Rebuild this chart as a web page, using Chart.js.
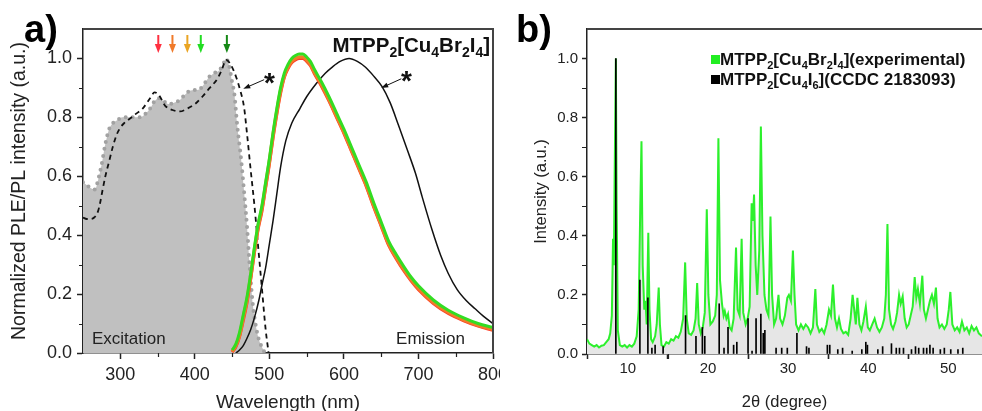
<!DOCTYPE html>
<html>
<head>
<meta charset="utf-8">
<script src="https://cdn.jsdelivr.net/npm/chart.js@4.4.1/dist/chart.umd.min.js"></script>
<style>
  html, body { margin: 0; padding: 0; background: #fff; overflow: hidden; width: 982px; height: 411px; }
  #wrapA { position: absolute; left: 0; top: 0; width: 500px; height: 425px; }
  #wrapB { position: absolute; left: 500px; top: 0; width: 482px; height: 425px; }
</style>
</head>
<body>
<div id="wrapA"><canvas id="pleChart"></canvas></div>
<div id="wrapB"><canvas id="xrdChart"></canvas></div>
<script>
const FONT = '"Liberation Sans", Arial, sans-serif';

// ---- panel a: PLE / PL ----
const pleWl = [250, 255, 260, 266, 270, 275, 280, 285, 290, 296, 303, 310, 320, 326, 333, 340, 346, 352, 358, 366, 372, 379, 386, 393, 400, 406, 413, 419, 426, 433, 438, 442, 446, 450, 453, 457, 462, 466, 470, 474, 478, 482, 486, 490, 494];
const pleVal = [0.58, 0.57, 0.56, 0.555, 0.585, 0.64, 0.71, 0.76, 0.78, 0.79, 0.80, 0.80, 0.80, 0.80, 0.81, 0.83, 0.855, 0.865, 0.855, 0.845, 0.85, 0.857, 0.875, 0.89, 0.893, 0.895, 0.915, 0.937, 0.95, 0.96, 0.98, 1.0, 0.975, 0.92, 0.88, 0.77, 0.66, 0.55, 0.43, 0.28, 0.16, 0.09, 0.045, 0.02, 0];

// reference compound (*) excitation, dashed
const refPleWl = [250, 255, 260, 265, 270, 273, 276, 280, 285, 290, 295, 300, 305, 310, 320, 330, 340, 346, 352, 360, 370, 380, 390, 400, 410, 420, 430, 436, 442, 448, 455, 460, 466, 470, 475, 480, 485, 490, 495, 499];
const refPleVal = [0.46, 0.455, 0.455, 0.46, 0.48, 0.51, 0.55, 0.6, 0.65, 0.70, 0.74, 0.765, 0.78, 0.79, 0.81, 0.83, 0.865, 0.885, 0.875, 0.84, 0.825, 0.82, 0.83, 0.845, 0.87, 0.90, 0.93, 0.96, 0.995, 0.98, 0.94, 0.90, 0.835, 0.745, 0.62, 0.50, 0.36, 0.22, 0.08, 0];

// emission under the five excitation wavelengths
const emWl = [450, 455, 460, 465, 470, 475, 480, 485, 490, 495, 500, 505, 510, 515, 520, 525, 530, 535, 540, 545, 550, 555, 560, 570, 580, 590, 600, 610, 620, 630, 640, 650, 660, 670, 680, 690, 700, 720, 740, 760, 780, 800];
const emGreen = [0.01, 0.03, 0.07, 0.13, 0.19, 0.27, 0.36, 0.44, 0.50, 0.58, 0.66, 0.75, 0.83, 0.90, 0.95, 0.98, 1.0, 1.01, 1.015, 1.015, 1.005, 0.99, 0.965, 0.92, 0.87, 0.815, 0.76, 0.70, 0.64, 0.58, 0.51, 0.445, 0.38, 0.335, 0.295, 0.258, 0.228, 0.18, 0.145, 0.12, 0.10, 0.087];
const emOrange = [0.005, 0.025, 0.06, 0.12, 0.18, 0.26, 0.35, 0.43, 0.49, 0.57, 0.65, 0.74, 0.82, 0.89, 0.94, 0.97, 0.99, 1.0, 1.005, 1.005, 0.995, 0.98, 0.955, 0.91, 0.86, 0.805, 0.75, 0.69, 0.63, 0.57, 0.50, 0.435, 0.37, 0.325, 0.285, 0.25, 0.22, 0.172, 0.138, 0.113, 0.094, 0.08];
const emRed = [0.003, 0.02, 0.055, 0.11, 0.17, 0.25, 0.34, 0.42, 0.48, 0.56, 0.64, 0.73, 0.81, 0.88, 0.935, 0.965, 0.985, 0.995, 1.0, 1.0, 0.99, 0.975, 0.95, 0.905, 0.855, 0.80, 0.745, 0.685, 0.625, 0.565, 0.495, 0.43, 0.365, 0.32, 0.28, 0.245, 0.215, 0.168, 0.134, 0.11, 0.091, 0.077];

// reference compound (*) emission, black
const refEmWl = [455, 460, 465, 470, 475, 480, 486, 490, 495, 500, 505, 510, 515, 522, 530, 541, 550, 563, 575, 584, 595, 607, 618, 629, 640, 651, 662, 673, 685, 696, 705, 718, 730, 740, 752, 764, 776, 787, 800];
const refEmVal = [0, 0.01, 0.025, 0.05, 0.08, 0.12, 0.18, 0.23, 0.29, 0.37, 0.45, 0.54, 0.63, 0.72, 0.78, 0.83, 0.87, 0.915, 0.95, 0.97, 0.99, 1.0, 0.99, 0.97, 0.94, 0.905, 0.85, 0.775, 0.69, 0.61, 0.53, 0.42, 0.33, 0.27, 0.215, 0.178, 0.15, 0.125, 0.10];

const excitationWl = [351, 370, 390, 408, 443];
const excitationColors = ['#ff3040', '#f07a2a', '#eaa524', '#22dd22', '#168816'];

const xTicksA = [300, 400, 500, 600, 700, 800];
const xMinorA = [350, 450, 550, 650, 750];
const yTicks = [0, 0.2, 0.4, 0.6, 0.8, 1.0];
const yMinor = [0.1, 0.3, 0.5, 0.7, 0.9];

// ---- panel b: XRD ----
const xrdAngle = [4.9, 5.2, 5.5, 5.8, 6.1, 6.4, 6.7, 7.0, 7.3, 7.6, 7.8, 8.0, 8.15, 8.25, 8.35, 8.5, 8.6, 8.75, 9.0, 9.3, 9.6, 9.9, 10.2, 10.5, 10.8, 11.1, 11.35, 11.55, 11.7, 11.85, 12.05, 12.2, 12.35, 12.55, 12.7, 12.9, 13.1, 13.4, 13.6, 13.85, 14.0, 14.2, 14.5, 14.8, 15.1, 15.4, 15.7, 16.0, 16.3, 16.6, 16.9, 17.15, 17.35, 17.6, 17.9, 18.2, 18.45, 18.65, 18.85, 19.1, 19.35, 19.6, 19.85, 20.05, 20.3, 20.6, 20.9, 21.1, 21.3, 21.5, 21.75, 21.95, 22.1, 22.3, 22.5, 22.7, 22.95, 23.2, 23.5, 23.7, 23.95, 24.2, 24.4, 24.7, 24.95, 25.2, 25.45, 25.6, 25.75, 25.95, 26.15, 26.4, 26.6, 26.8, 27.05, 27.3, 27.55, 27.8, 28.0, 28.25, 28.5, 28.8, 29.0, 29.3, 29.6, 29.9, 30.1, 30.35, 30.6, 30.8, 31.0, 31.3, 31.6, 31.9, 32.2, 32.5, 32.8, 33.1, 33.4, 33.6, 33.9, 34.2, 34.5, 34.8, 35.1, 35.35, 35.6, 35.85, 36.1, 36.35, 36.6, 36.9, 37.2, 37.5, 37.8, 38.05, 38.25, 38.45, 38.65, 38.9, 39.15, 39.4, 39.7, 39.95, 40.2, 40.5, 40.8, 41.1, 41.4, 41.7, 42.0, 42.2, 42.4, 42.6, 42.85, 43.1, 43.4, 43.6, 43.85, 44.05, 44.3, 44.55, 44.8, 45.05, 45.3, 45.55, 45.8, 46.0, 46.2, 46.45, 46.75, 46.95, 47.2, 47.45, 47.7, 47.95, 48.2, 48.45, 48.65, 48.9, 49.2, 49.5, 49.8, 50.05, 50.25, 50.5, 50.8, 51.1, 51.4, 51.7, 52.0, 52.3, 52.6, 52.9, 53.2, 53.5, 53.8, 54.2];
const xrdInt = [0.05, 0.035, 0.03, 0.025, 0.03, 0.022, 0.028, 0.03, 0.04, 0.05, 0.07, 0.13, 0.39, 0.3, 0.6, 1.0, 0.5, 0.08, 0.03, 0.025, 0.03, 0.022, 0.03, 0.025, 0.035, 0.06, 0.15, 0.5, 0.72, 0.3, 0.15, 0.18, 0.1, 0.41, 0.15, 0.05, 0.04, 0.06, 0.1, 0.225, 0.1, 0.03, 0.025, 0.04, 0.035, 0.05, 0.045, 0.06, 0.055, 0.075, 0.12, 0.31, 0.12, 0.07, 0.065, 0.08, 0.12, 0.24, 0.1, 0.07, 0.09, 0.14, 0.49, 0.2, 0.1, 0.11, 0.13, 0.2, 0.73, 0.25, 0.17, 0.13, 0.145, 0.12, 0.135, 0.09, 0.08, 0.12, 0.36, 0.15, 0.13, 0.39, 0.14, 0.1, 0.12, 0.16, 0.51, 0.45, 0.54, 0.3, 0.2, 0.35, 0.77, 0.4, 0.2, 0.15, 0.13, 0.465, 0.2, 0.1, 0.12, 0.2, 0.12, 0.1, 0.13, 0.19, 0.2, 0.18, 0.35, 0.2, 0.1, 0.08, 0.1, 0.085, 0.1, 0.09, 0.07, 0.09, 0.22, 0.1, 0.075, 0.085, 0.07, 0.1, 0.15, 0.13, 0.235, 0.12, 0.09, 0.12, 0.085, 0.07, 0.075, 0.065, 0.12, 0.2, 0.15, 0.1, 0.19, 0.1, 0.08, 0.11, 0.16, 0.09, 0.08, 0.1, 0.12, 0.09, 0.075, 0.09, 0.12, 0.2, 0.44, 0.15, 0.1, 0.085, 0.11, 0.14, 0.2, 0.17, 0.195, 0.12, 0.09, 0.1, 0.13, 0.16, 0.26, 0.19, 0.22, 0.17, 0.265, 0.15, 0.12, 0.15, 0.18, 0.2, 0.17, 0.225, 0.12, 0.09, 0.1, 0.085, 0.1, 0.15, 0.21, 0.1, 0.08, 0.09, 0.075, 0.11, 0.08, 0.09, 0.07, 0.095, 0.08, 0.09, 0.07, 0.06];

// CCDC 2183093 calculated pattern (sticks)
const ccdcAngle = [8.5, 11.5, 12.5, 13.0, 13.4, 14.4, 17.2, 18.5, 19.3, 19.6, 21.4, 22.0, 22.5, 23.2, 23.6, 25.0, 25.5, 26.0, 26.6, 26.9, 27.1, 28.5, 29.2, 29.9, 31.1, 32.3, 32.6, 34.9, 35.2, 36.2, 36.8, 38.0, 39.2, 39.7, 39.9, 41.2, 41.8, 42.9, 43.5, 43.9, 44.4, 45.4, 45.9, 46.3, 46.9, 47.3, 47.7, 48.1, 49.0, 49.5, 50.3, 51.2, 51.8];
const ccdcInt = [1.0, 0.25, 0.19, 0.02, 0.03, 0.025, 0.13, 0.06, 0.09, 0.06, 0.17, 0.02, 0.09, 0.03, 0.04, 0.12, 0.01, 0.12, 0.135, 0.07, 0.08, 0.02, 0.02, 0.02, 0.07, 0.025, 0.02, 0.03, 0.03, 0.015, 0.02, 0.01, 0.015, 0.04, 0.03, 0.015, 0.025, 0.035, 0.02, 0.02, 0.02, 0.015, 0.025, 0.02, 0.02, 0.02, 0.03, 0.02, 0.015, 0.02, 0.015, 0.015, 0.02];

const xTicksB = [10, 20, 30, 40, 50];
const xMinorB = [15, 25, 35, 45];

Chart.defaults.font.family = FONT;
Chart.defaults.color = '#222';
Chart.defaults.animation = false;

const pts = (xs, ys) => xs.map((x, i) => ({ x: x, y: ys[i] }));

function drawArrow(ctx, x1, y1, x2, y2, color, lw, head, halfW) {
  const a = Math.atan2(y2 - y1, x2 - x1);
  ctx.save();
  ctx.strokeStyle = color; ctx.fillStyle = color; ctx.lineWidth = lw;
  ctx.beginPath();
  ctx.moveTo(x1, y1);
  ctx.lineTo(x2 - Math.cos(a) * head * 0.8, y2 - Math.sin(a) * head * 0.8);
  ctx.stroke();
  ctx.beginPath();
  ctx.moveTo(x2, y2);
  ctx.lineTo(x2 - Math.cos(a) * head - Math.sin(a) * halfW, y2 - Math.sin(a) * head + Math.cos(a) * halfW);
  ctx.lineTo(x2 - Math.cos(a) * head + Math.sin(a) * halfW, y2 - Math.sin(a) * head - Math.cos(a) * halfW);
  ctx.closePath();
  ctx.fill();
  ctx.restore();
}

// text with subscripts, written as "MTPP_2[Cu_4...]"
function drawRich(ctx, str, x, y, size, align) {
  const parts = str.split(/(_\d)/).filter(t => t).map(t => t[0] === '_' ? [t.slice(1), true] : [t, false]);
  const mainFont = 'bold ' + size + 'px ' + FONT;
  const subFont = 'bold ' + Math.round(size * 0.66) + 'px ' + FONT;
  let w = 0;
  parts.forEach(p => { ctx.font = p[1] ? subFont : mainFont; w += ctx.measureText(p[0]).width; });
  let cx = align === 'right' ? x - w : x;
  ctx.textAlign = 'left';
  ctx.textBaseline = 'alphabetic';
  parts.forEach(p => {
    ctx.font = p[1] ? subFont : mainFont;
    ctx.fillText(p[0], cx, p[1] ? y + size * 0.22 : y);
    cx += ctx.measureText(p[0]).width;
  });
}

function minorTicks(ctx, chart, xs, ys, len) {
  const a = chart.chartArea, sx = chart.scales.x, sy = chart.scales.y;
  ctx.save();
  ctx.strokeStyle = '#222'; ctx.lineWidth = 1.2;
  ctx.beginPath();
  xs.forEach(v => { const px = Math.round(sx.getPixelForValue(v)) + 0.5; ctx.moveTo(px, a.bottom); ctx.lineTo(px, a.bottom + len); });
  ys.forEach(v => { const py = Math.round(sy.getPixelForValue(v)) + 0.5; ctx.moveTo(a.left, py); ctx.lineTo(a.left - len, py); });
  ctx.stroke();
  ctx.restore();
}

const decorA = {
  id: 'decorA',
  afterDraw(chart) {
    const ctx = chart.ctx, a = chart.chartArea, sx = chart.scales.x, sy = chart.scales.y;
    ctx.save();
    // frame
    ctx.strokeStyle = '#444'; ctx.lineWidth = 2;
    ctx.beginPath();
    ctx.moveTo(a.left, a.top); ctx.lineTo(a.right, a.top); ctx.lineTo(a.right, a.bottom);
    ctx.stroke();
    minorTicks(ctx, chart, xMinorA, yMinor, 4);
    // excitation wavelength arrows
    excitationWl.forEach((wl, i) => {
      const px = sx.getPixelForValue(wl);
      drawArrow(ctx, px, 35, px, 53, excitationColors[i], 2, 9, 3.5);
    });
    // asterisks pointing to the reference curves
    ctx.fillStyle = '#111';
    ctx.font = 'bold 28px ' + FONT;
    ctx.textAlign = 'center'; ctx.textBaseline = 'alphabetic';
    ctx.fillText('*', sx.getPixelForValue(500), sy.getPixelForValue(0.942) + 16);
    ctx.fillText('*', sx.getPixelForValue(684), sy.getPixelForValue(0.946) + 16);
    drawArrow(ctx, sx.getPixelForValue(493), sy.getPixelForValue(0.928), sx.getPixelForValue(465), sy.getPixelForValue(0.897), '#111', 1, 7, 2.5);
    drawArrow(ctx, sx.getPixelForValue(677), sy.getPixelForValue(0.931), sx.getPixelForValue(650), sy.getPixelForValue(0.90), '#111', 1, 7, 2.5);
    // texts
    ctx.fillStyle = '#111';
    drawRich(ctx, 'MTPP_2[Cu_4Br_2I_4]', a.right - 3, 52, 20.5, 'right');
    ctx.font = '17px ' + FONT;
    ctx.fillStyle = '#222';
    ctx.textAlign = 'left';
    ctx.fillText('Excitation', 92, 344);
    ctx.textAlign = 'right';
    ctx.fillText('Emission', 465, 344);
    ctx.fillStyle = '#000';
    ctx.font = 'bold 38px ' + FONT;
    ctx.textAlign = 'left';
    ctx.fillText('a)', 24, 42);
    ctx.restore();
  }
};

const decorB = {
  id: 'decorB',
  afterDraw(chart) {
    const ctx = chart.ctx, a = chart.chartArea;
    ctx.save();
    ctx.strokeStyle = '#444'; ctx.lineWidth = 2;
    ctx.beginPath();
    ctx.moveTo(a.left, a.top); ctx.lineTo(a.right, a.top);
    ctx.stroke();
    minorTicks(ctx, chart, xMinorB, yMinor, 5);
    // legend
    ctx.fillStyle = '#22ee22';
    ctx.fillRect(211, 55, 9, 9);
    ctx.fillStyle = '#000';
    ctx.fillRect(211, 75, 9, 9);
    ctx.fillStyle = '#111';
    drawRich(ctx, 'MTPP_2[Cu_4Br_2I_4](experimental)', 220, 65, 17, 'left');
    drawRich(ctx, 'MTPP_2[Cu_4I_6](CCDC 2183093)', 220, 85, 17, 'left');
    ctx.fillStyle = '#000';
    ctx.font = 'bold 38px ' + FONT;
    ctx.textAlign = 'left';
    ctx.fillText('b)', 16, 42);
    ctx.restore();
  }
};

const axisCommon = (tickLen) => ({
  border: { display: true, color: '#222', width: 1.5 },
  grid: { display: true, drawOnChartArea: false, drawTicks: true, tickLength: tickLen, tickColor: '#222', tickWidth: 1.5 }
});

new Chart(document.getElementById('pleChart'), {
  type: 'line',
  data: {
    datasets: [
      { data: pts(pleWl, pleVal), fill: 'origin', backgroundColor: '#c0c0c0', borderColor: '#a2a2a2', borderWidth: 4, borderDash: [0, 7], borderCapStyle: 'round', pointRadius: 0, cubicInterpolationMode: 'monotone', order: 6 },
      { data: pts(refPleWl, refPleVal), borderColor: '#111', borderWidth: 1.8, borderDash: [5, 4], pointRadius: 0, cubicInterpolationMode: 'monotone', fill: false, order: 5 },
      { data: pts(refEmWl, refEmVal), borderColor: '#111', borderWidth: 1.5, pointRadius: 0, cubicInterpolationMode: 'monotone', fill: false, order: 4 },
      { data: pts(emWl, emRed), borderColor: '#ff3a2a', borderWidth: 3, pointRadius: 0, cubicInterpolationMode: 'monotone', fill: false, order: 3 },
      { data: pts(emWl, emOrange), borderColor: '#f07d28', borderWidth: 3.5, pointRadius: 0, cubicInterpolationMode: 'monotone', fill: false, order: 2 },
      { data: pts(emWl, emGreen), borderColor: '#33dd22', borderWidth: 3, pointRadius: 0, cubicInterpolationMode: 'monotone', fill: false, order: 1 }
    ]
  },
  options: {
    responsive: true,
    maintainAspectRatio: false,
    layout: { padding: { top: 29, right: 7, left: 0, bottom: 0 } },
    plugins: { legend: { display: false }, tooltip: { enabled: false } },
    scales: {
      x: {
        type: 'linear', min: 250, max: 800,
        ...axisCommon(6),
        afterBuildTicks: s => { s.ticks = xTicksA.map(v => ({ value: v })); },
        afterFit: s => { s.height = 72; s.paddingLeft = 0; s.paddingRight = 0; },
        ticks: { font: { size: 18 }, color: '#222', padding: 5, maxRotation: 0, autoSkip: false },
        title: { display: true, text: 'Wavelength (nm)', font: { size: 19 }, color: '#222', padding: { top: 0, bottom: 10.5 } }
      },
      y: {
        min: 0, max: 1.1,
        ...axisCommon(6),
        afterBuildTicks: s => { s.ticks = yTicks.map(v => ({ value: v })); },
        afterFit: s => { s.width = 83; s.paddingTop = 0; s.paddingBottom = 0; },
        ticks: { font: { size: 18 }, color: '#222', padding: 5, callback: v => v.toFixed(1) },
        title: { display: true, text: 'Normalized PLE/PL intensity (a.u.)', font: { size: 19.5 }, color: '#222', padding: { top: 8, bottom: 0 } }
      }
    }
  },
  plugins: [decorA]
});

new Chart(document.getElementById('xrdChart'), {
  type: 'line',
  data: {
    datasets: [
      { type: 'bar', data: pts(ccdcAngle, ccdcInt), backgroundColor: '#000', barThickness: 1, order: 0 },
      { type: 'line', data: pts(xrdAngle, xrdInt), borderColor: '#2cf02c', borderWidth: 2, backgroundColor: '#e6e6e6', fill: 'origin', pointRadius: 0, tension: 0, order: 1 }
    ]
  },
  options: {
    responsive: true,
    maintainAspectRatio: false,
    layout: { padding: { top: 29, right: 0, left: 0, bottom: 0 } },
    plugins: { legend: { display: false }, tooltip: { enabled: false } },
    scales: {
      x: {
        type: 'linear', min: 4.9, max: 54.2, offset: false,
        ...axisCommon(5),
        afterBuildTicks: s => { s.ticks = xTicksB.map(v => ({ value: v })); },
        afterFit: s => { s.height = 71; s.paddingLeft = 0; s.paddingRight = 0; },
        ticks: { font: { size: 15 }, color: '#222', padding: 1, maxRotation: 0, autoSkip: false },
        title: { display: true, text: '2θ (degree)', font: { size: 16.5 }, color: '#222', padding: { top: 0, bottom: 13 } }
      },
      y: {
        min: 0, max: 1.1,
        ...axisCommon(5),
        afterBuildTicks: s => { s.ticks = yTicks.map(v => ({ value: v })); },
        afterFit: s => { s.width = 87; s.paddingTop = 0; s.paddingBottom = 0; },
        ticks: { font: { size: 15 }, color: '#222', padding: 4, callback: v => v.toFixed(1) },
        title: { display: true, text: 'Intensity (a.u.)', font: { size: 16.5 }, color: '#222', padding: { top: 32, bottom: 0 } }
      }
    }
  },
  plugins: [decorB]
});
</script>
</body>
</html>
